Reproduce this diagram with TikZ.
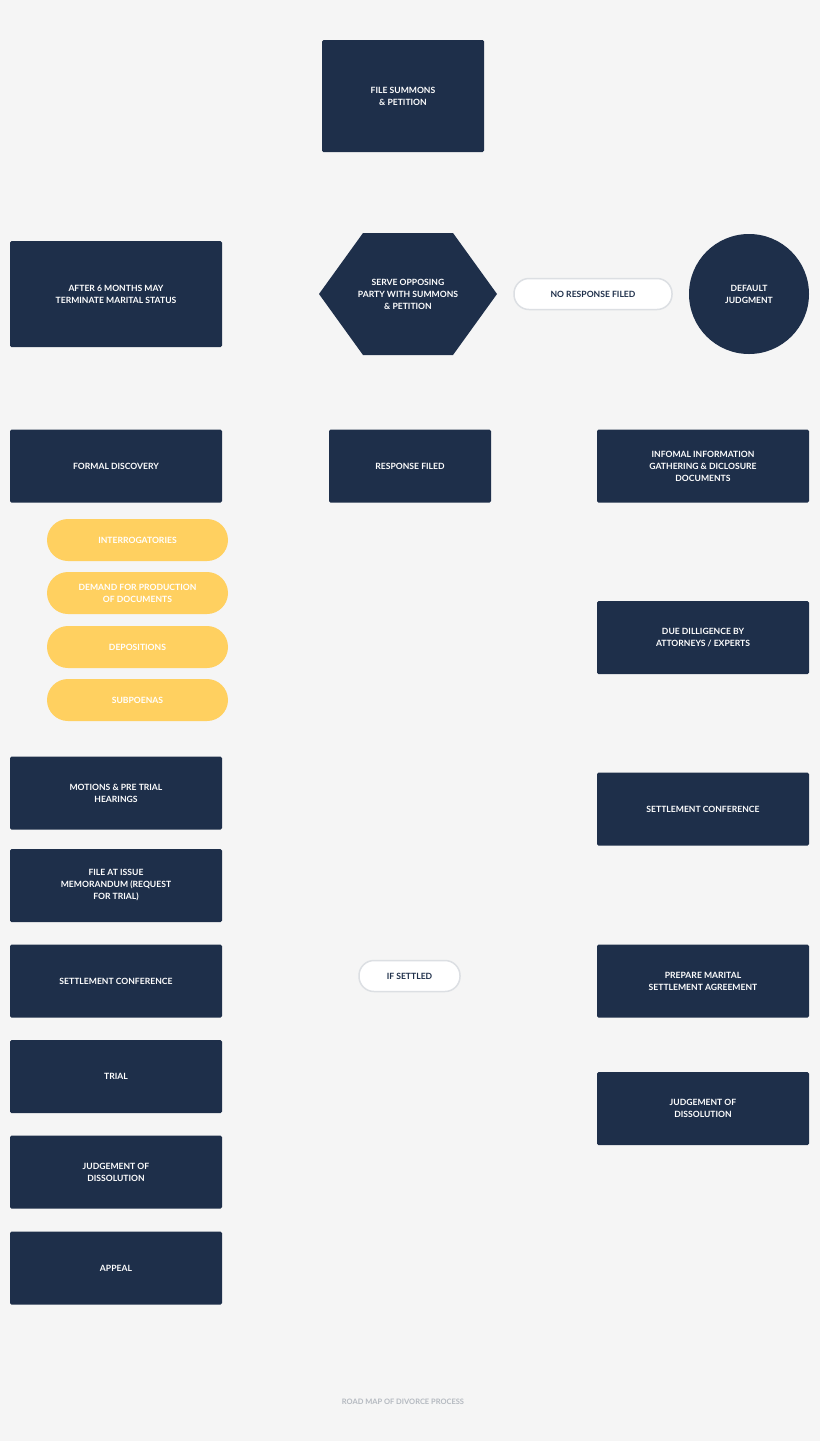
\documentclass[tikz,border=0pt]{standalone}
\usepackage{fontspec}
\setmainfont{Lato}
\usetikzlibrary{backgrounds}
\definecolor{navy}{HTML}{1E2F4A}
\definecolor{gold}{HTML}{FFD060}
\definecolor{bgc}{HTML}{F5F5F5}
\definecolor{lnc}{HTML}{DCDFE3}
\definecolor{foot}{HTML}{B4B9C0}
\begin{document}
\begin{tikzpicture}[x=1pt,y=-1pt,
  box/.style={fill=navy,rounded corners=1.5pt,text=white,font=\bfseries\fontsize{8.6}{12}\selectfont,align=center,inner sep=0pt,minimum width=212pt,minimum height=73pt},
  pill/.style={fill=gold,rounded corners=21pt,text=white,font=\bfseries\fontsize{8.6}{12}\selectfont,align=center,inner sep=0pt,minimum width=181pt,minimum height=42pt},
  wpill/.style={fill=white,draw=lnc,line width=1.5pt,rounded corners=15pt,text=navy,font=\bfseries\fontsize{8.6}{12}\selectfont,align=center,inner sep=0pt,minimum height=31pt},
  conn/.style={draw=lnc,line width=2pt}]
\fill[bgc] (0,0) rectangle (820,1441);
\useasboundingbox (0,0) rectangle (820,1441);
\node[box,minimum width=162pt,minimum height=112pt] (file) at (403,96) {FILE SUMMONS\\\& PETITION};
\fill[navy] (319,294)--(363,233)--(453,233)--(497,294)--(453,355)--(363,355)--cycle;
\node[text=white,font=\bfseries\fontsize{8.6}{12}\selectfont,align=center,minimum width=178pt,minimum height=122pt,inner sep=0pt] (serve) at (408,294) {SERVE OPPOSING\\PARTY WITH SUMMONS\\\& PETITION};
\node[box,minimum height=106pt] (after) at (116,294) {AFTER 6 MONTHS MAY\\TERMINATE MARITAL STATUS};
\node[wpill,minimum width=158pt] (nores) at (593,294) {NO RESPONSE FILED};
\node[fill=navy,circle,minimum size=120pt,inner sep=0pt,text=white,font=\bfseries\fontsize{8.6}{12}\selectfont,align=center] (default) at (749,294) {DEFAULT\\JUDGMENT};
\node[box] (formal) at (116,466) {FORMAL DISCOVERY};
\node[box,minimum width=162pt] (resp) at (410,466) {RESPONSE FILED};
\node[box] (info) at (703,466) {INFOMAL INFORMATION\\GATHERING \& DICLOSURE\\DOCUMENTS};
\node[pill] (p1) at (137.5,540) {INTERROGATORIES};
\node[pill] (p2) at (137.5,593) {DEMAND FOR PRODUCTION\\OF DOCUMENTS};
\node[pill] (p3) at (137.5,647) {DEPOSITIONS};
\node[pill] (p4) at (137.5,700) {SUBPOENAS};
\node[box] (motions) at (116,793) {MOTIONS \& PRE TRIAL\\HEARINGS};
\node[box] (issue) at (116,885.5) {FILE AT ISSUE\\MEMORANDUM (REQUEST\\FOR TRIAL)};
\node[box] (setl) at (116,981) {SETTLEMENT CONFERENCE};
\node[box] (trial) at (116,1076.5) {TRIAL};
\node[box] (judl) at (116,1172) {JUDGEMENT OF\\DISSOLUTION};
\node[box] (appeal) at (116,1268) {APPEAL};
\node[box] (due) at (703,637.5) {DUE DILLIGENCE BY\\ATTORNEYS / EXPERTS};
\node[box] (setr) at (703,809) {SETTLEMENT CONFERENCE};
\node[box] (prep) at (703,981) {PREPARE MARITAL\\SETTLEMENT AGREEMENT};
\node[box] (judr) at (703,1108.5) {JUDGEMENT OF\\DISSOLUTION};
\node[wpill,minimum width=101pt] (ifs) at (409.5,976) {IF SETTLED};
\node[text=foot,font=\bfseries\fontsize{7.5}{9}\selectfont] (footer) at (403,1402) {ROAD MAP OF DIVORCE PROCESS};
\coordinate (spine) at (30,0);
\begin{scope}[on background layer]
\draw[conn] (file.south) -- (file.south |- serve.north);
\draw[conn] (serve.south) -- (serve.south |- resp.north);
\draw[conn] (after.east) -- (serve.west);
\draw[conn] (serve.east) -- (nores.west);
\draw[conn] (nores.east) -- (default.west);
\draw[conn] (formal.east) -- (resp.west);
\draw[conn] (resp.east) -- (info.west);
\draw[conn] (spine |- formal.south) -- (spine |- motions.north);
\foreach \p in {p1,p2,p3,p4} \draw[conn] (spine |- \p.west) -- (\p.west);
\draw[conn] (motions) -- (issue);
\draw[conn] (issue) -- (setl);
\draw[conn] (setl) -- (trial);
\draw[conn] (trial) -- (judl);
\draw[conn] (judl) -- (appeal);
\draw[conn] (info) -- (due);
\draw[conn] (due) -- (setr);
\draw[conn] (setr) -- (prep);
\draw[conn] (prep) -- (judr);
\draw[conn] (setl.east) -- (ifs.west);
\draw[conn] (ifs.east) -- (prep.west);
\end{scope}
\end{tikzpicture}
\end{document}
